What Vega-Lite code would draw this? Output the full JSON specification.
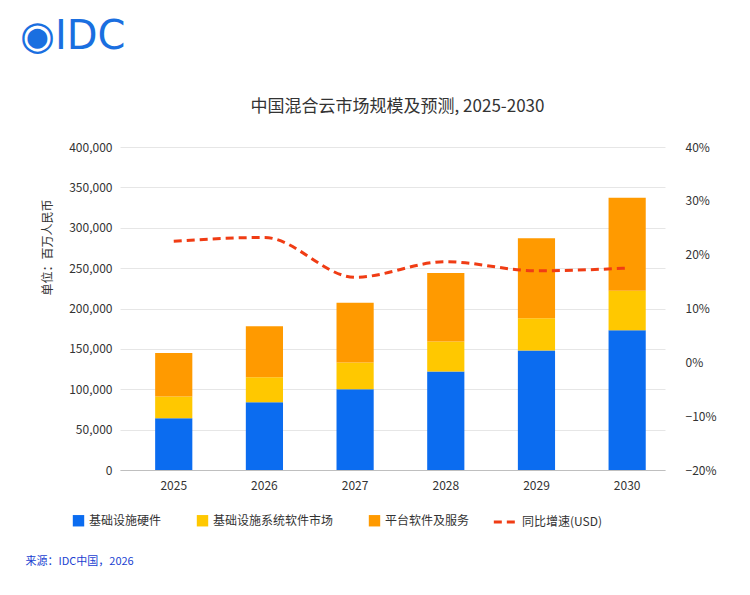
{
  "$schema": "https://vega.github.io/schema/vega-lite/v6.json",
  "autosize": "none",
  "width": 545,
  "height": 323,
  "padding": {"left": 120, "top": 147, "right": 85, "bottom": 125},
  "background": "white",
  "title": {
    "text": "◉IDC",
    "anchor": "start",
    "frame": "group",
    "font": "DejaVu Sans",
    "fontSize": 40,
    "fontWeight": "normal",
    "color": "#1a6fe0",
    "offset": 40,
    "dx": -100
  },
  "datasets": {
    "bars": [
      {"year": "2025", "series": "基础设施硬件", "order": 1, "value": 64000},
      {"year": "2025", "series": "基础设施系统软件市场", "order": 2, "value": 27000},
      {"year": "2025", "series": "平台软件及服务", "order": 3, "value": 54000},
      {"year": "2026", "series": "基础设施硬件", "order": 1, "value": 84000},
      {"year": "2026", "series": "基础设施系统软件市场", "order": 2, "value": 31000},
      {"year": "2026", "series": "平台软件及服务", "order": 3, "value": 63000},
      {"year": "2027", "series": "基础设施硬件", "order": 1, "value": 100000},
      {"year": "2027", "series": "基础设施系统软件市场", "order": 2, "value": 33000},
      {"year": "2027", "series": "平台软件及服务", "order": 3, "value": 74000},
      {"year": "2028", "series": "基础设施硬件", "order": 1, "value": 122000},
      {"year": "2028", "series": "基础设施系统软件市场", "order": 2, "value": 37000},
      {"year": "2028", "series": "平台软件及服务", "order": 3, "value": 85000},
      {"year": "2029", "series": "基础设施硬件", "order": 1, "value": 148000},
      {"year": "2029", "series": "基础设施系统软件市场", "order": 2, "value": 40000},
      {"year": "2029", "series": "平台软件及服务", "order": 3, "value": 99000},
      {"year": "2030", "series": "基础设施硬件", "order": 1, "value": 173000},
      {"year": "2030", "series": "基础设施系统软件市场", "order": 2, "value": 49000},
      {"year": "2030", "series": "平台软件及服务", "order": 3, "value": 115000}
    ],
    "growth": [
      {"year": "2025", "name": "同比增速(USD)", "rate": 0.225},
      {"year": "2026", "name": "同比增速(USD)", "rate": 0.232},
      {"year": "2027", "name": "同比增速(USD)", "rate": 0.158},
      {"year": "2028", "name": "同比增速(USD)", "rate": 0.187},
      {"year": "2029", "name": "同比增速(USD)", "rate": 0.17},
      {"year": "2030", "name": "同比增速(USD)", "rate": 0.175}
    ]
  },
  "layer": [
    {
      "data": {"name": "bars"},
      "mark": {"type": "bar"},
      "encoding": {
        "x": {
          "field": "year",
          "type": "nominal",
          "scale": {"paddingInner": 0.59, "paddingOuter": 0.3, "align": 0.646},
          "axis": {
            "labelAngle": 0,
            "labelFontSize": 12,
            "labelColor": "#333333",
            "labelPadding": 10,
            "ticks": false,
            "domainColor": "#bfbfbf",
            "title": "来源：IDC中国，2026",
            "titleFont": "Noto Sans CJK SC",
            "titleFontSize": 11,
            "titleFontWeight": "normal",
            "titleColor": "#1a3fd1",
            "titleAlign": "left",
            "titleX": -95,
            "titleY": 85
          }
        },
        "y": {
          "field": "value",
          "type": "quantitative",
          "stack": "zero",
          "scale": {"domain": [0, 400000]},
          "axis": {
            "format": ",.0f",
            "values": [0, 50000, 100000, 150000, 200000, 250000, 300000, 350000, 400000],
            "labelFontSize": 12,
            "labelColor": "#333333",
            "labelPadding": 8,
            "ticks": false,
            "domain": false,
            "gridColor": "#e6e6e6",
            "title": "单位：百万人民币",
            "titleFont": "Noto Sans CJK SC",
            "titleFontSize": 12,
            "titleFontWeight": "normal",
            "titleColor": "#333333",
            "titlePadding": 14,
            "titleY": 100
          }
        },
        "color": {
          "field": "series",
          "type": "nominal",
          "scale": {
            "domain": ["基础设施硬件", "基础设施系统软件市场", "平台软件及服务"],
            "range": ["#0b6cf0", "#ffc800", "#ff9a00"]
          },
          "legend": {
            "title": null,
            "orient": "none",
            "direction": "horizontal",
            "legendX": -48,
            "legendY": 367,
            "symbolType": "square",
            "symbolSize": 130,
            "labelFontSize": 12,
            "labelFont": "Noto Sans CJK SC",
            "labelColor": "#333333",
            "columnPadding": 34
          }
        },
        "order": {"field": "order", "type": "quantitative"}
      }
    },
    {
      "data": {"name": "growth"},
      "mark": {"type": "line", "interpolate": "monotone", "strokeWidth": 3, "color": "#f03c14", "strokeDash": [8, 5]},
      "encoding": {
        "x": {
          "field": "year",
          "type": "nominal",
          "axis": {
            "orient": "top",
            "labels": false,
            "ticks": false,
            "domain": false,
            "title": "中国混合云市场规模及预测, 2025-2030",
            "titleFont": "Noto Sans CJK SC",
            "titleFontSize": 17,
            "titleFontWeight": "normal",
            "titleColor": "#333333",
            "titleX": 277,
            "titleY": -32
          }
        },
        "y": {
          "field": "rate",
          "type": "quantitative",
          "scale": {"domain": [-0.2, 0.4]},
          "axis": {
            "orient": "right",
            "format": ".0%",
            "tickCount": 7,
            "grid": false,
            "ticks": false,
            "domain": false,
            "labelFontSize": 12,
            "labelColor": "#333333",
            "labelPadding": 20,
            "title": null
          }
        },
        "strokeDash": {
          "field": "name",
          "type": "nominal",
          "scale": {"range": [[8, 5]]},
          "legend": {
            "title": null,
            "orient": "none",
            "legendX": 372,
            "legendY": 362,
            "symbolStrokeColor": "#f03c14",
            "symbolStrokeWidth": 3,
            "symbolSize": 500,
            "labelFontSize": 12,
            "labelFont": "Noto Sans CJK SC",
            "labelColor": "#333333"
          }
        }
      }
    }
  ],
  "resolve": {"scale": {"y": "independent"}, "axis": {"x": "independent"}},
  "config": {"font": "Noto Sans CJK SC", "view": {"stroke": null}}
}
